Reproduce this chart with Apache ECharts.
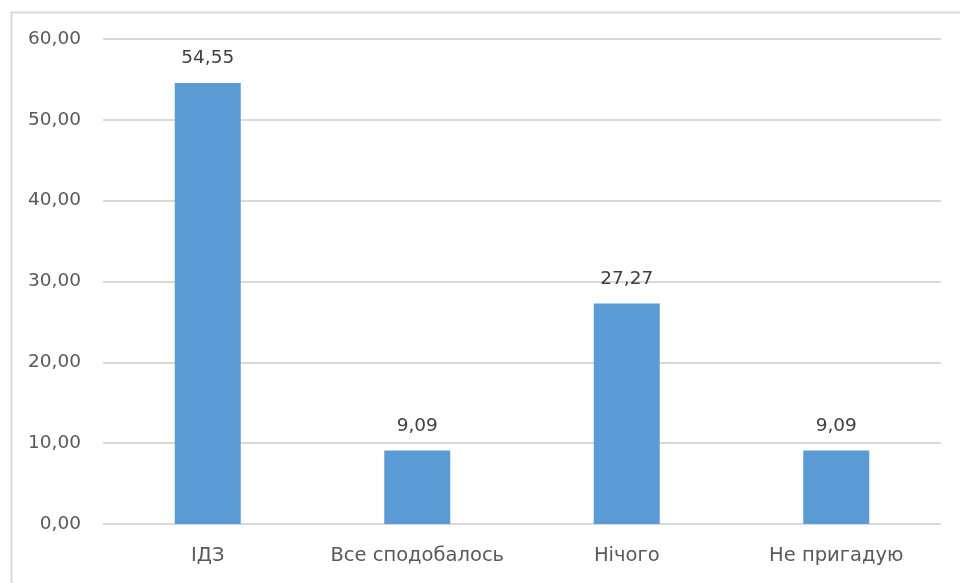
<!DOCTYPE html>
<html>
<head>
<meta charset="utf-8">
<script src="https://cdn.jsdelivr.net/npm/echarts@6/dist/echarts.min.js"></script>
<style>html,body{margin:0;padding:0;background:#fff;}#c{width:960px;height:583px;}</style>
</head>
<body>
<div id="c"></div>
<script>
const categories = ['ІДЗ', 'Все сподобалось', 'Нічого', 'Не пригадую'];
const values = [54.55, 9.09, 27.27, 9.09];
const yMin = 0, yMax = 60, yStep = 10;

const fmt = v => v.toFixed(2).replace('.', ',');
const font = '"DejaVu Sans", "Open Sans", sans-serif';

const chart = echarts.init(document.getElementById('c'), null, {renderer: 'canvas'});
chart.setOption({
  animation: false,
  backgroundColor: '#ffffff',
  graphic: [{
    type: 'rect', left: 9, top: 10,
    shape: {width: 1000, height: 1000},
    style: {fill: 'none', stroke: '#d9d9d9', lineWidth: 2},
    silent: true
  }],
  grid: {left: 103, right: 19, top: 39, bottom: 59},
  xAxis: {
    type: 'category',
    data: categories,
    axisLine: {show: false},
    axisTick: {show: false},
    axisLabel: {color: '#595959', fontSize: 19.5, fontFamily: font, margin: 22, interval: 0, hideOverlap: false}
  },
  yAxis: {
    type: 'value',
    min: yMin, max: yMax, interval: yStep,
    axisLine: {show: false},
    axisTick: {show: false},
    axisLabel: {color: '#595959', fontSize: 18.5, fontFamily: font, margin: 22, formatter: fmt},
    splitLine: {lineStyle: {color: '#d9d9d9', width: 2}}
  },
  series: [{
    type: 'bar',
    data: values,
    barWidth: 66,
    itemStyle: {color: '#5b9bd5'},
    label: {
      show: true, position: 'top', distance: 15,
      color: '#404040', fontSize: 18.5, fontFamily: font,
      formatter: p => fmt(p.value)
    }
  }]
});
</script>
</body>
</html>
